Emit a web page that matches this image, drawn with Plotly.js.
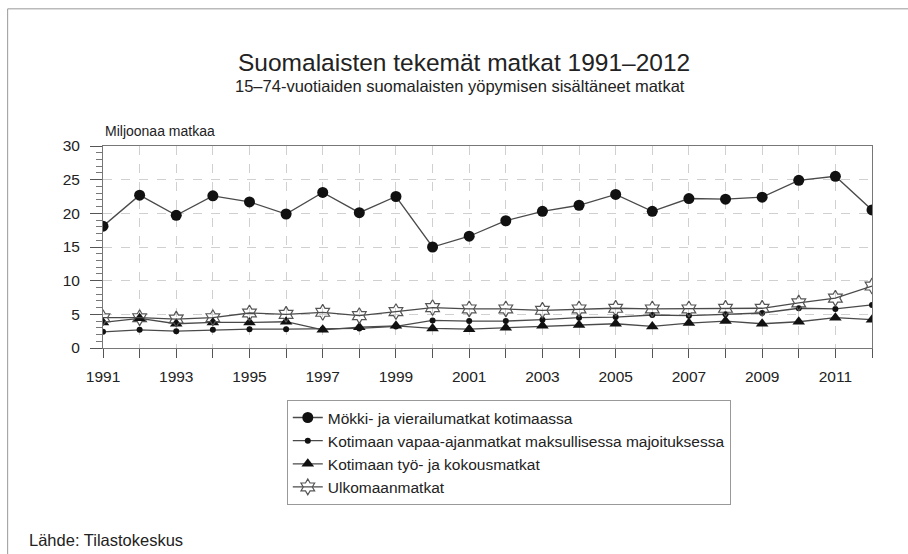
<!DOCTYPE html>
<html>
<head>
<meta charset="utf-8">
<script src="https://cdn.plot.ly/plotly-3.0.1.min.js"></script>
<style>
html,body{margin:0;padding:0;background:#fff;}
#chart{width:908px;height:554px;}
</style>
</head>
<body>
<div id="chart"></div>
<script>
const years = [1991,1992,1993,1994,1995,1996,1997,1998,1999,2000,2001,2002,2003,2004,2005,2006,2007,2008,2009,2010,2011,2012];
const mokki = [18.1,22.7,19.7,22.6,21.7,19.9,23.1,20.1,22.5,15.0,16.6,18.9,20.3,21.2,22.8,20.3,22.2,22.1,22.4,24.9,25.5,20.5];
const vapaa = [2.4,2.7,2.5,2.7,2.8,2.8,2.8,2.9,3.2,4.1,4.0,4.0,4.2,4.5,4.6,4.9,4.8,5.0,5.2,5.9,5.8,6.4];
const tyo = [3.8,4.4,3.6,3.8,3.8,3.9,2.7,3.1,3.3,2.9,2.8,3.0,3.3,3.4,3.6,3.2,3.7,4.0,3.6,3.9,4.5,4.2];
const ulkomaa = [4.5,4.5,4.3,4.5,5.2,5.0,5.3,4.8,5.4,6.0,5.8,5.8,5.6,5.8,5.9,5.8,5.8,5.9,5.9,6.7,7.4,9.2];
const seriesNames = [
  "Mökki- ja vierailumatkat kotimaassa",
  "Kotimaan vapaa-ajanmatkat maksullisessa majoituksessa",
  "Kotimaan työ- ja kokousmatkat",
  "Ulkomaanmatkat"
];
const xTickVals = years;
const xTickText = years.map(y => (y % 2 === 1 ? String(y) : ""));
const titleText = "Suomalaisten tekemät matkat 1991–2012";
const subtitleText = "15–74-vuotiaiden suomalaisten yöpymisen sisältäneet matkat";
const yLabel = "Miljoonaa matkaa";
const sourceText = "Lähde: Tilastokeskus";

const lineStyle = {color:'#4a4a4a', width:1.3};
const traces = [
  {x:years, y:mokki, name:seriesNames[0], mode:'lines+markers', line:lineStyle,
   marker:{symbol:'circle', size:11, color:'#111'}},
  {x:years, y:vapaa, name:seriesNames[1], mode:'lines+markers', line:lineStyle,
   marker:{symbol:'circle', size:6, color:'#111'}},
  {x:years, y:tyo, name:seriesNames[2], mode:'lines+markers', line:lineStyle,
   marker:{symbol:'triangle-up', size:11, color:'#111'}},
  {x:years, y:ulkomaa, name:seriesNames[3], mode:'lines+markers', line:lineStyle,
   marker:{symbol:'hexagram-open', size:12, color:'#555', line:{width:1.2, color:'#555'}}}
];

const font = {family:'Arial, "Liberation Sans", sans-serif', color:'#222'};
const layout = {
  width:908, height:554,
  margin:{l:103, r:36, t:146, b:206},
  paper_bgcolor:'#fff', plot_bgcolor:'#fff',
  font:Object.assign({size:14}, font),
  showlegend:true,
  legend:{x:0.239, y:-0.257, xanchor:'left', yanchor:'top', bordercolor:'#999', borderwidth:1,
          bgcolor:'#fff', font:{size:15.5, color:'#222'}, tracegroupgap:0, itemwidth:30},
  xaxis:{range:[1991,2012], tickvals:xTickVals, ticktext:xTickText, ticks:'outside', ticklen:9,
         tickcolor:'#555', showline:true, linecolor:'#777', mirror:true, showgrid:true,
         gridcolor:'#d0d0d0', griddash:'dash', zeroline:false, ticklabelstandoff:5,
         tickfont:{size:15.5, color:'#222'}},
  yaxis:{range:[0,30], dtick:5, ticks:'outside', ticklen:12, tickcolor:'#555', showline:true,
         linecolor:'#777', mirror:true, showgrid:true, gridcolor:'#d0d0d0', griddash:'dash',
         zeroline:false, ticklabelstandoff:7, tickfont:{size:15.5, color:'#222'},
         minor:{dtick:1, ticks:'outside', ticklen:6, tickcolor:'#777', showgrid:false}},
  annotations:[
    {text:titleText, xref:'paper', yref:'paper', x:0.469, y:1.412, xanchor:'center', yanchor:'middle',
     showarrow:false, font:{size:24.5, color:'#222'}},
    {text:subtitleText, xref:'paper', yref:'paper', x:0.464, y:1.297, xanchor:'center', yanchor:'middle',
     showarrow:false, font:{size:16.5, color:'#222'}},
    {text:yLabel, xref:'paper', yref:'paper', x:0, y:1.0765, xanchor:'left', yanchor:'middle',
     showarrow:false, font:{size:14, color:'#222'}},
    {text:sourceText, xref:'paper', yref:'paper', x:-0.0988, y:-0.952, xanchor:'left', yanchor:'middle',
     showarrow:false, font:{size:16.5, color:'#222'}}
  ],
  shapes:[
    {type:'rect', xref:'paper', yref:'paper', x0:-0.124, x1:1.1417, y0:-1.1, y1:1.679,
     line:{color:'#999', width:1}, fillcolor:'rgba(0,0,0,0)', layer:'below'}
  ]
};
Plotly.newPlot('chart', traces, layout, {displayModeBar:false, staticPlot:true});
</script>
</body>
</html>
